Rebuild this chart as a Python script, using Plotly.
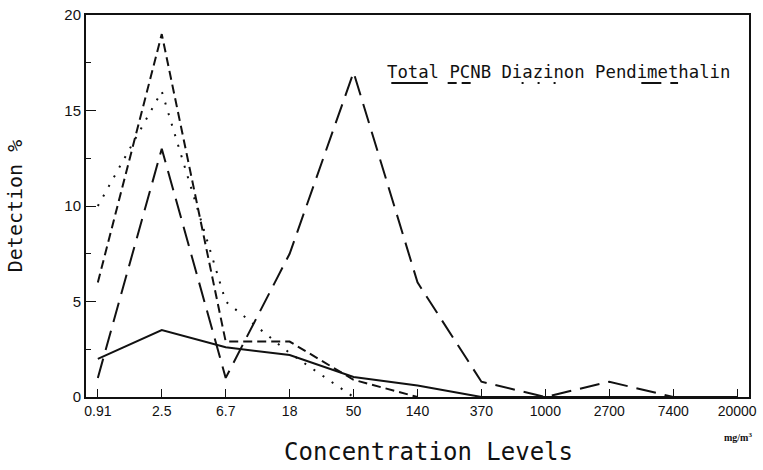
import plotly.graph_objects as go

categories = ["0.91", "2.5", "6.7", "18", "50", "140", "370", "1000", "2700", "7400", "20000"]
total = [2.0, 3.5, 2.6, 2.2, 1.05, 0.6, 0, 0, 0, 0, 0]
pcnb = [6.0, 19.0, 2.9, 2.9, 0.9, 0, None, None, None, None, None]
diazinon = [10.0, 16.0, 5.0, 2.3, 0, None, None, None, None, None, None]
pendimethalin = [1.0, 13.0, 1.0, 7.5, 17.0, 6.0, 0.8, 0, 0.8, 0, None]
y_ticks = [0, 5, 10, 15, 20]

x_idx = list(range(len(categories)))
ink = "#111111"
mono = "DejaVu Sans Mono"

fig = go.Figure()
series = [
    ("Total", total, "solid", 2),
    ("PCNB", pcnb, "9px,5px", 2),
    ("Diazinon", diazinon, "2px,9px", 2),
    ("Pendimethalin", pendimethalin, "20px,9px", 2),
]
for name, vals, dash, w in series:
    fig.add_trace(go.Scatter(x=x_idx, y=vals, mode="lines", name=name,
                             line=dict(color=ink, width=w, dash=dash),
                             connectgaps=False, showlegend=False))

# legend drawn like the original: names with line samples underneath
fig.add_annotation(xref="paper", yref="paper", x=0.7125, y=0.851,
                   text="Total PCNB Diazinon Pendimethalin", showarrow=False,
                   xanchor="center", yanchor="middle",
                   font=dict(family=mono, size=17.3, color=ink))
samples = [
    (0.4605, 0.5156, "solid"),
    (0.5455, 0.5872, "9px,5px"),
    (0.657, 0.711, "2px,14px"),
    (0.8376, 0.893, "20px,9px"),
]
for x0, x1, dash in samples:
    fig.add_shape(type="line", xref="paper", yref="paper", x0=x0, x1=x1,
                  y0=0.822, y1=0.822, line=dict(color=ink, width=2, dash=dash))

fig.add_annotation(xref="paper", yref="paper", x=1.007, y=-0.105,
                   text="<b>mg/m<sup>3</sup></b>", showarrow=False, xanchor="right",
                   yanchor="middle", font=dict(family="Liberation Serif", size=10, color=ink))

# x-axis title, placed where the original has it
fig.add_annotation(xref="paper", yref="paper", x=0.516, y=-0.144,
                   text="Concentration Levels", showarrow=False,
                   xanchor="center", yanchor="middle",
                   font=dict(family=mono, size=24, color=ink))

fig.update_layout(
    width=763, height=470,
    margin=dict(l=86, r=6, t=15, b=73),
    paper_bgcolor="white", plot_bgcolor="white",
    font=dict(family="Liberation Sans", color=ink),
)
fig.update_xaxes(
    tickmode="array", tickvals=x_idx, ticktext=categories,
    range=[-0.185, 10.185], showgrid=False, zeroline=False,
    showline=True, linecolor=ink, linewidth=2, mirror=True,
    ticks="inside", ticklen=8, tickwidth=1, tickcolor=ink,
    ticklabeloverflow="allow",
    tickfont=dict(size=14, family="Liberation Sans"),
)
fig.update_yaxes(
    tickmode="array", tickvals=y_ticks, ticktext=[str(v) for v in y_ticks],
    range=[0, 20], showgrid=False, zeroline=False,
    showline=True, linecolor=ink, linewidth=2, mirror=True,
    ticks="inside", ticklen=10, tickwidth=1, tickcolor=ink,
    minor=dict(dtick=2.5, tick0=0, ticks="inside", ticklen=5, tickcolor=ink),
    tickfont=dict(size=15, family="Liberation Sans"),
    title=dict(text="Detection %", font=dict(family=mono, size=20), standoff=36),
)

fig.write_html("out.html", config={"displayModeBar": False},
               post_script="document.body.style.margin='0';")
